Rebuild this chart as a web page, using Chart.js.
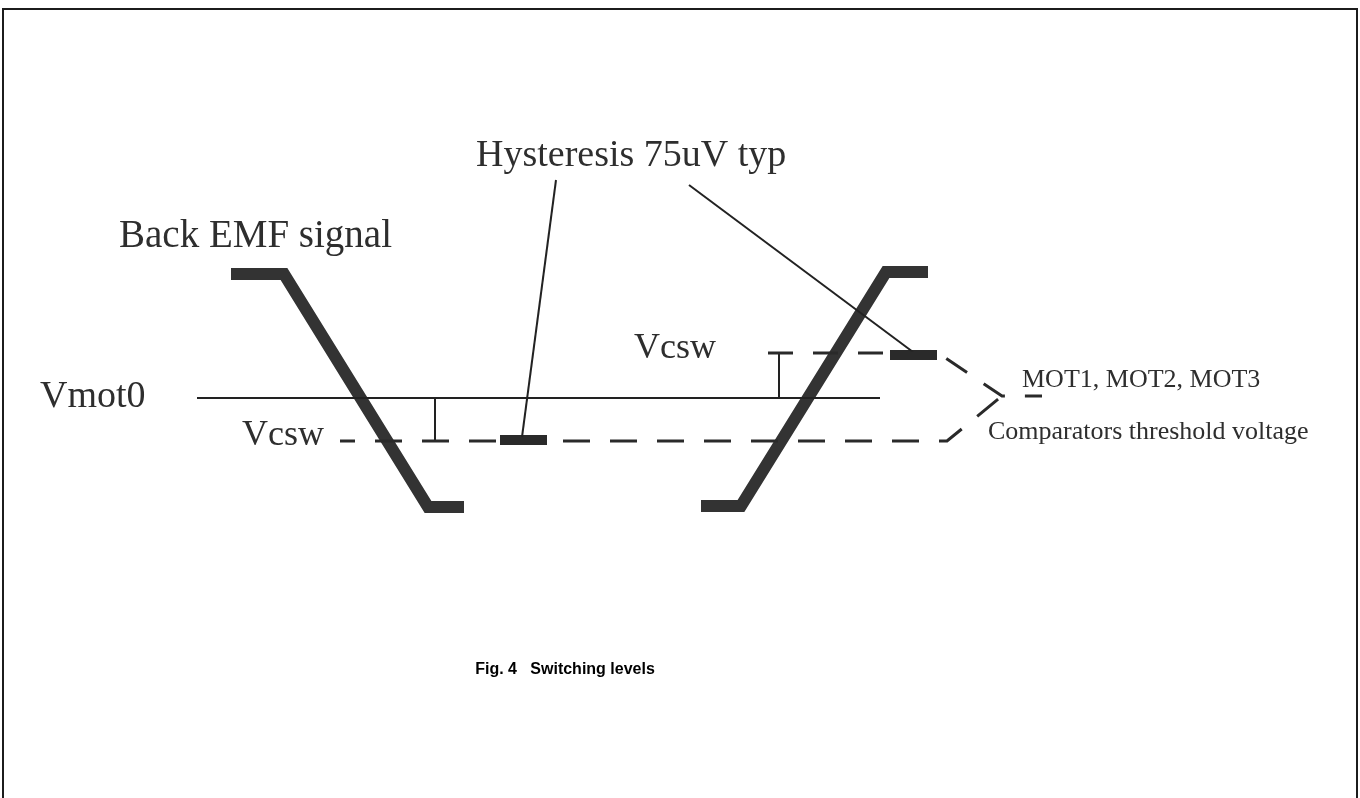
<!DOCTYPE html>
<html>
<head>
<meta charset="utf-8">
<script src="https://cdn.jsdelivr.net/npm/chart.js@4.4.1/dist/chart.umd.min.js"></script>
<style>
    html, body { margin: 0; padding: 0; background: #fff; }
    #wrap { width: 1360px; height: 798px; }
</style>
</head>
<body>
<div id="wrap"><canvas id="chart" width="1360" height="798"></canvas></div>
<script>
// diagram values, in the figure's own units (x across, y down)
const fallingEdge = [[231, 274], [284, 274], [428, 507], [464, 507]];
const risingEdge = [[701, 506], [741, 506], [886, 272], [928, 272]];
const vmot0Level = [[197, 398], [880, 398]];
const lowerThreshold = [[340, 441], [947, 441], [1002, 396]];
const upperThreshold = [[768, 353], [938, 353], [1002, 396], [1042, 396]];
const lowerHystBar = [[500, 440], [547, 440]];
const upperHystBar = [[890, 355], [937, 355]];
const lowerGap = [[435, 398], [435, 441]];
const upperGap = [[779, 353], [779, 398]];
const leaderLeft = [[556, 180], [522, 437]];
const leaderRight = [[689, 185], [913, 352]];

const labels = [
    { text: `Hysteresis 75uV typ`, x: 476, y: 166, size: 38 },
    { text: `Back EMF signal`, x: 119, y: 247, size: 39 },
    { text: `Vmot0`, x: 40, y: 407, size: 38 },
    { text: `Vcsw`, x: 242, y: 445, size: 36 },
    { text: `Vcsw`, x: 634, y: 358, size: 36 },
    { text: `MOT1, MOT2, MOT3`, x: 1022, y: 387, size: 26 },
    { text: `Comparators threshold voltage`, x: 988, y: 439, size: 26 }
];
const caption = `Fig. 4   Switching levels`;

const pts = arr => arr.map(p => ({ x: p[0], y: p[1] }));

function line(data, width, color, dash, offset) {
    return {
        data: pts(data),
        showLine: true,
        borderColor: color,
        borderWidth: width,
        borderDash: dash || [],
        borderDashOffset: offset || 0,
        borderJoinStyle: `miter`,
        borderCapStyle: `butt`,
        pointRadius: 0,
        tension: 0,
        fill: false
    };
}

const decor = {
    id: `decor`,
    afterDraw(chart) {
        const ctx = chart.ctx;
        ctx.save();
        ctx.strokeStyle = `#1c1c1c`;
        ctx.lineWidth = 2;
        ctx.strokeRect(3, 9, 1354, 820);
        ctx.fillStyle = `#2e2e2e`;
        ctx.textBaseline = `alphabetic`;
        ctx.textAlign = `left`;
        for (const l of labels) {
            ctx.font = `${l.size}px "Liberation Serif", "Times New Roman", serif`;
            ctx.fillText(l.text, l.x, l.y);
        }
        ctx.fillStyle = `#000`;
        ctx.textAlign = `center`;
        ctx.font = `bold 16px "Liberation Sans", Arial, sans-serif`;
        ctx.fillText(caption, 565, 674);
        ctx.restore();
    }
};

new Chart(document.getElementById(`chart`).getContext(`2d`), {
    type: `scatter`,
    data: {
        datasets: [
            line(vmot0Level, 2, `#222`),
            line(lowerThreshold, 3, `#2a2a2a`, [27, 20], 12),
            line(upperThreshold, 3, `#2a2a2a`, [25, 20]),
            line(lowerGap, 2, `#222`),
            line(upperGap, 2, `#222`),
            line(leaderLeft, 2, `#222`),
            line(leaderRight, 2, `#222`),
            line(fallingEdge, 12, `#333`),
            line(risingEdge, 12, `#333`),
            line(lowerHystBar, 10, `#2a2a2a`),
            line(upperHystBar, 10, `#2a2a2a`)
        ]
    },
    options: {
        responsive: false,
        animation: false,
        layout: { padding: 0 },
        plugins: { legend: { display: false }, tooltip: { enabled: false } },
        scales: {
            x: { type: `linear`, min: 0, max: 1360, display: false },
            y: { type: `linear`, min: 0, max: 798, reverse: true, display: false }
        }
    },
    plugins: [decor]
});
</script>
</body>
</html>
